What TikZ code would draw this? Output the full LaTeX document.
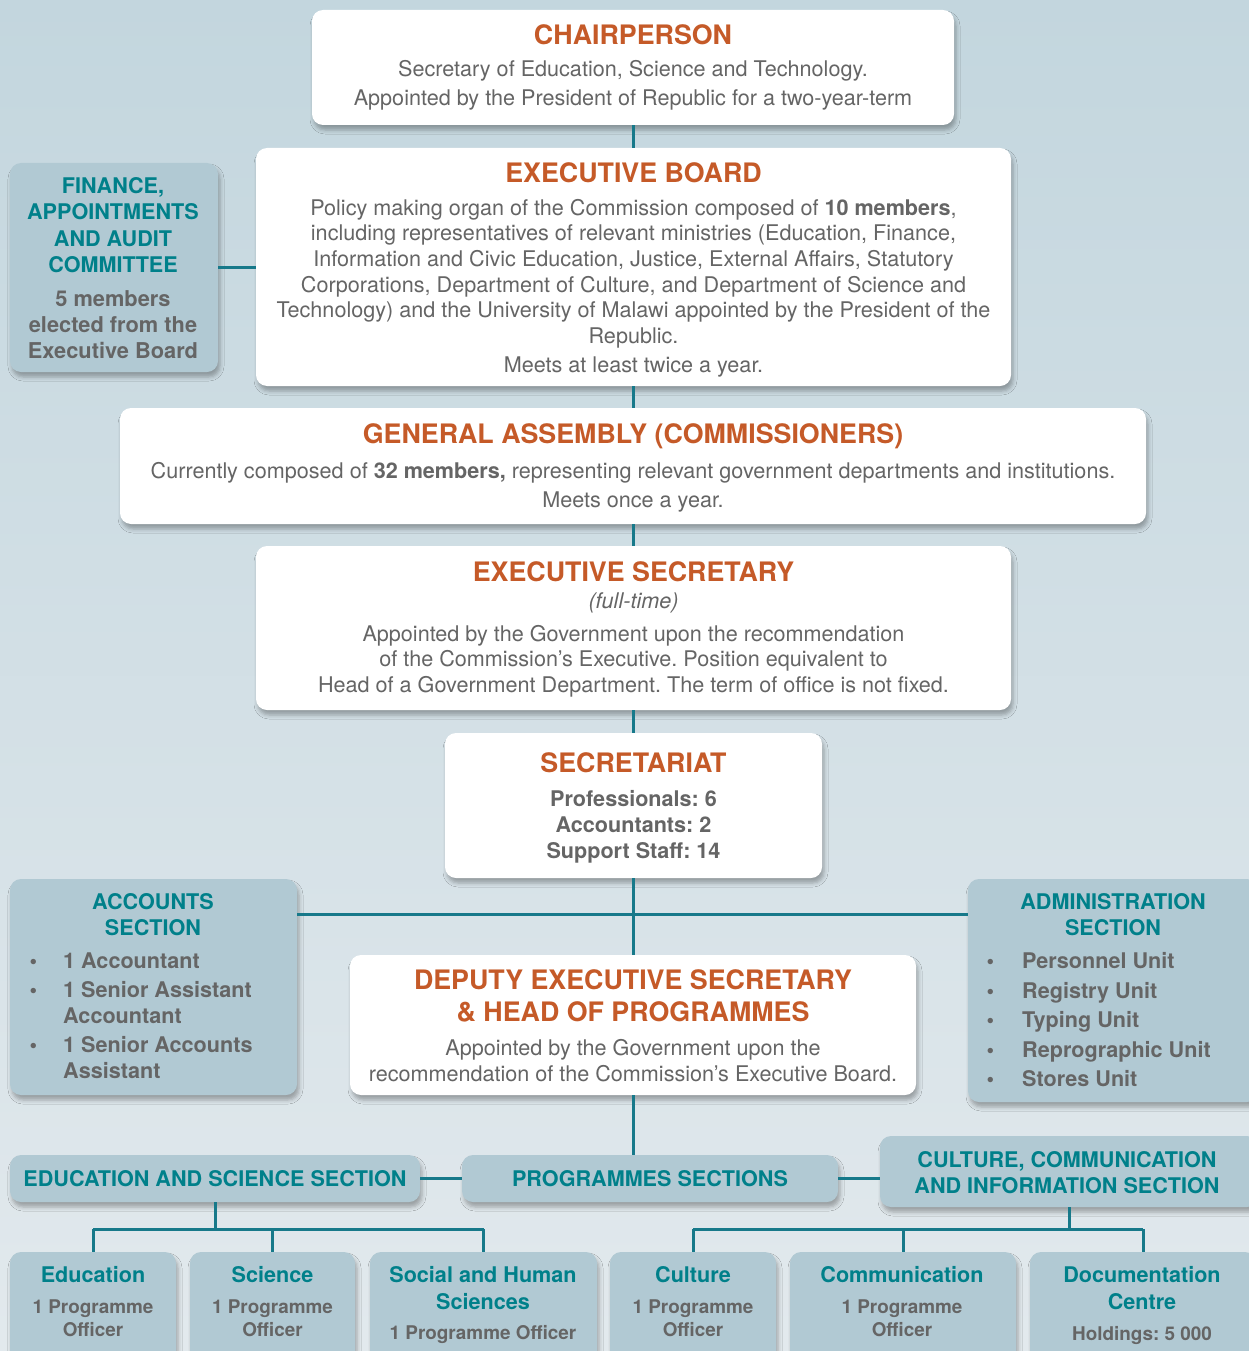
\documentclass[tikz,border=0pt]{standalone}
\usepackage{fontspec}
\setmainfont{TeX Gyre Heros}
\usetikzlibrary{shadows.blur}
\frenchspacing
\definecolor{bgtop}{HTML}{C3D6DE}
\definecolor{bgbot}{HTML}{E2E9ED}
\definecolor{boxg}{HTML}{B1C9D3}
\definecolor{tealt}{HTML}{00808A}
\definecolor{orng}{HTML}{C55A28}
\definecolor{greyt}{HTML}{656565}
\definecolor{conncol}{HTML}{17798A}
\newcommand\otitle[1]{{\fontsize{26.8}{30}\selectfont\bfseries\color{orng}#1}}
\newcommand\ttitle[1]{{\fontsize{21.6}{26}\selectfont\bfseries\color{tealt}#1}}
\newcommand\mybul[1]{\llap{\textbullet\hspace{#1}}}
\tikzset{
  shad/.style={blur shadow={shadow xshift=2pt, shadow yshift=-5pt, shadow blur radius=4pt, shadow opacity=30}},
  wbox/.style={fill=white, rounded corners=11pt, shad, inner sep=0pt},
  gbox/.style={fill=boxg, rounded corners=11pt, shad, inner sep=0pt},
  link/.style={draw=conncol, line width=3pt},
  txt/.style={inner sep=0pt, align=center, anchor=north, text=greyt},
  ltxt/.style={inner sep=0pt, align=left, anchor=north west, text=greyt},
  tfont/.style={font=\fontsize{21.6}{26}\selectfont\bfseries},
}
\begin{document}
\begin{tikzpicture}[x=1pt,y=-1pt]
\useasboundingbox (0,0) rectangle (1249,1351);
\shade[top color=bgtop, bottom color=bgbot] (0,0) rectangle (1249,1351);

% boxes
\node[wbox, minimum width=642pt, minimum height=115pt] (chair) at (633,67.5) {};
\node[wbox, minimum width=755pt, minimum height=238pt] (eb) at (633.5,267) {};
\node[gbox, minimum width=208pt, minimum height=209pt] (fin) at (114,267.5) {};
\node[wbox, minimum width=1026pt, minimum height=116pt] (ga) at (633,466) {};
\node[wbox, minimum width=755pt, minimum height=164pt] (es) at (633.5,628) {};
\node[wbox, minimum width=377pt, minimum height=145pt] (sec) at (633.5,805.5) {};
\node[gbox, minimum width=287pt, minimum height=216pt] (acc) at (153.5,987) {};
\node[gbox, minimum width=290pt, minimum height=223pt] (adm) at (1113,990.5) {};
\node[wbox, minimum width=566pt, minimum height=140pt] (dep) at (633,1025) {};
\node[gbox, minimum width=410pt, minimum height=47pt, tfont, text=tealt] (edus) at (215,1178.5) {EDUCATION AND SCIENCE SECTION};
\node[gbox, minimum width=376pt, minimum height=47pt, tfont, text=tealt] (prog) at (650,1178.5) {PROGRAMMES SECTIONS};
\node[gbox, minimum width=378pt, minimum height=71pt] (cults) at (1069,1171.5) {};
\node[gbox, minimum width=166pt, minimum height=128pt] (b1) at (93,1316) {};
\node[gbox, minimum width=165pt, minimum height=128pt] (b2) at (272.5,1316) {};
\node[gbox, minimum width=227pt, minimum height=128pt] (b3) at (483.5,1316) {};
\node[gbox, minimum width=166pt, minimum height=128pt] (b4) at (693,1316) {};
\node[gbox, minimum width=226pt, minimum height=128pt] (b5) at (903,1316) {};
\node[gbox, minimum width=226pt, minimum height=128pt] (b6) at (1143,1316) {};

% texts
\node[txt, font=\fontsize{21.6}{29}\selectfont] (chairT) at (633,24.3)
  {\otitle{CHAIRPERSON}\\[3pt]
   Secretary of Education, Science and Technology.\\
   Appointed by the President of Republic for a two-year-term};

\node[txt, font=\fontsize{21.6}{25.6}\selectfont] (ebT) at (633.5,162.3)
  {\otitle{EXECUTIVE BOARD}\\[7.4pt]
   Policy making organ of the Commission composed of \textbf{10 members},\\
   including representatives of relevant ministries (Education, Finance,\\
   Information and Civic Education, Justice, External Affairs, Statutory\\
   Corporations, Department of Culture, and Department of Science and\\
   Technology) and the University of Malawi appointed by the President of the\\
   Republic.\\[3.4pt]
   Meets at least twice a year.};

\node[txt, font=\fontsize{21.8}{26.3}\selectfont\bfseries] (finT) at (113,177.2)
  {\ttitle{FINANCE,}\\ \ttitle{APPOINTMENTS}\\ \ttitle{AND AUDIT}\\ \ttitle{COMMITTEE}\\[7.7pt]
   5 members\\ elected from the\\ Executive Board};

\node[txt, font=\fontsize{21.6}{29}\selectfont] (gaT) at (633,423.3)
  {\otitle{GENERAL ASSEMBLY (COMMISSIONERS)}\\[6pt]
   Currently composed of \textbf{32 members,} representing relevant government departments and institutions.\\
   Meets once a year.};

\node[txt, font=\fontsize{21.6}{25.5}\selectfont] (esT) at (633.5,561.3)
  {\otitle{EXECUTIVE SECRETARY}\\[2pt]
   \textit{(full-time)}\\[7pt]
   Appointed by the Government upon the recommendation\\
   of the Commission’s Executive. Position equivalent to\\
   Head of a Government Department. The term of office is not fixed.};

\node[txt, font=\fontsize{21.6}{26}\selectfont\bfseries] (secT) at (633.5,752.3)
  {\otitle{SECRETARIAT}\\[8pt]
   Professionals: 6\\ Accountants: 2\\ Support Staff: 14};

\node[txt, tfont] (accT) at (153,893.2) {\ttitle{ACCOUNTS}\\ \ttitle{SECTION}};
\node[ltxt, font=\fontsize{21.6}{26}\selectfont\bfseries] (accL) at (63,952.2)
  {\mybul{26pt}1 Accountant\\[3pt]
   \mybul{26pt}1 Senior Assistant\\
   Accountant\\[3pt]
   \mybul{26pt}1 Senior Accounts\\
   Assistant};

\node[txt, tfont] (admT) at (1113,893.2) {\ttitle{ADMINISTRATION}\\ \ttitle{SECTION}};
\node[ltxt, font=\fontsize{21.6}{29.5}\selectfont\bfseries] (admL) at (1022,952.2)
  {\mybul{28pt}Personnel Unit\\
   \mybul{28pt}Registry Unit\\
   \mybul{28pt}Typing Unit\\
   \mybul{28pt}Reprographic Unit\\
   \mybul{28pt}Stores Unit};

\node[txt, font=\fontsize{21.6}{26}\selectfont] (depT) at (633,969.3)
  {\otitle{DEPUTY EXECUTIVE SECRETARY}\\[6pt]
   \otitle{\& HEAD OF PROGRAMMES}\\[8pt]
   Appointed by the Government upon the\\
   recommendation of the Commission’s Executive Board.};

\node[txt, tfont] (cultsT) at (1067,1151.2) {\ttitle{CULTURE, COMMUNICATION}\\ \ttitle{AND INFORMATION SECTION}};

\node[txt, font=\fontsize{18.9}{23}\selectfont\bfseries] (b1T) at (93,1266.2)
  {\ttitle{Education}\\[8pt] 1 Programme\\ Officer};
\node[txt, font=\fontsize{18.9}{23}\selectfont\bfseries] (b2T) at (272.5,1266.2)
  {\ttitle{Science}\\[8pt] 1 Programme\\ Officer};
\node[txt, font=\fontsize{18.9}{23}\selectfont\bfseries] (b3T) at (483,1266.2)
  {\ttitle{Social and Human}\\[4pt] \ttitle{Sciences}\\[7pt] 1 Programme Officer};
\node[txt, font=\fontsize{18.9}{23}\selectfont\bfseries] (b4T) at (693,1266.2)
  {\ttitle{Culture}\\[8pt] 1 Programme\\ Officer};
\node[txt, font=\fontsize{18.9}{23}\selectfont\bfseries] (b5T) at (902,1266.2)
  {\ttitle{Communication}\\[8pt] 1 Programme\\ Officer};
\node[txt, font=\fontsize{18.9}{23}\selectfont\bfseries] (b6T) at (1142,1266.2)
  {\ttitle{Documentation}\\[4pt] \ttitle{Centre}\\[8pt] Holdings: 5 000};

% connectors
\coordinate (hub) at (633,914);
\coordinate (lb) at (215,1229);
\coordinate (rb) at (1069,1229);
\draw[link] (chair.south) -- (eb.north -| chair.south);
\draw[link] (eb.south -| chair.south) -- (ga.north);
\draw[link] (ga.south) -- (es.north -| ga.south);
\draw[link] (es.south -| ga.south) -- (sec.north -| ga.south);
\draw[link] (sec.south -| ga.south) -- (dep.north);
\draw[link] (acc.east |- hub) -- (adm.west |- hub);
\draw[link] (fin.east) -- (eb.west |- fin.east);
\draw[link] (dep.south) -- (dep.south |- prog.north);
\draw[link] (edus.east) -- (prog.west);
\draw[link] (prog.east) -- (prog.east -| cults.west);
\draw[link] (edus.south) -- (lb);
\draw[link] (b1.north |- lb) -- (b3.north |- lb);
\draw[link] (b1.north |- lb) -- (b1.north);
\draw[link] (b2.north |- lb) -- (b2.north);
\draw[link] (b3.north |- lb) -- (b3.north);
\draw[link] (cults.south) -- (rb);
\draw[link] (b4.north |- rb) -- (b6.north |- rb);
\draw[link] (b4.north |- rb) -- (b4.north);
\draw[link] (b5.north |- rb) -- (b5.north);
\draw[link] (b6.north |- rb) -- (b6.north);
\end{tikzpicture}
\end{document}
